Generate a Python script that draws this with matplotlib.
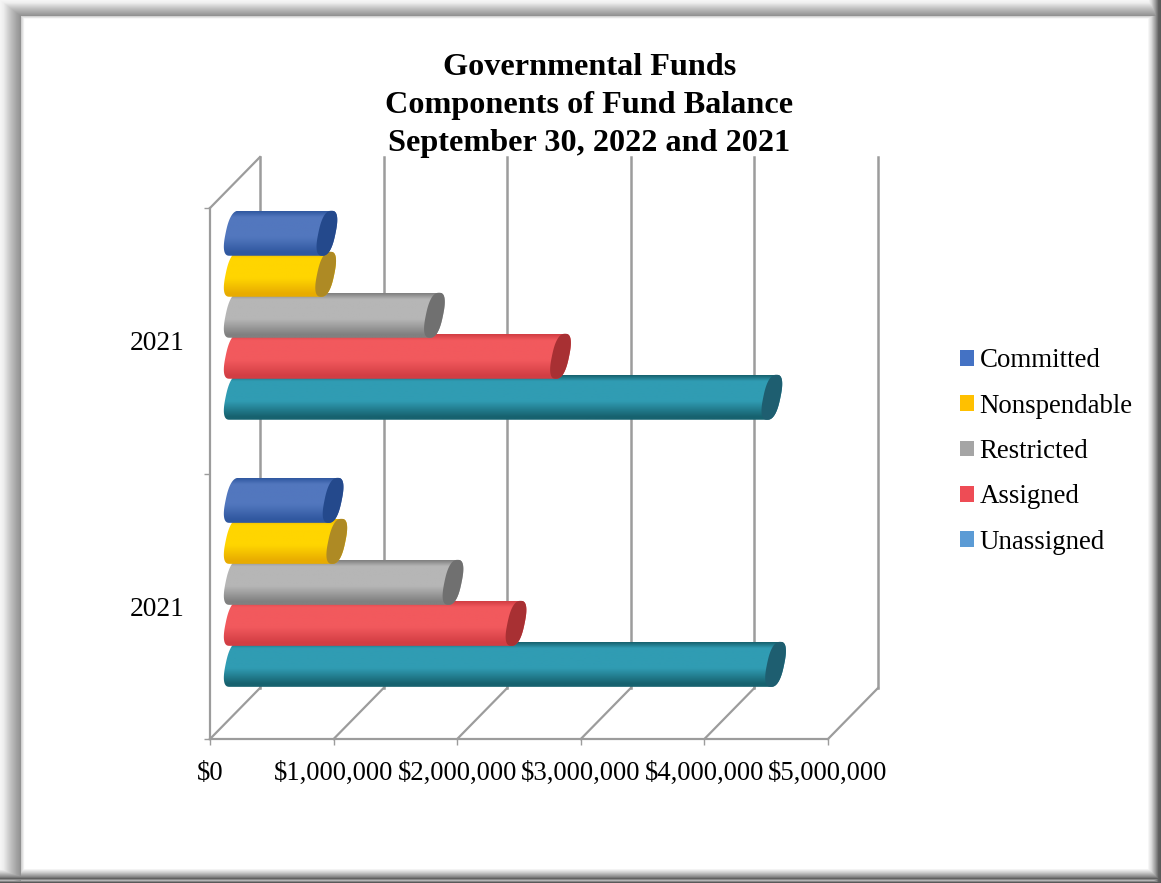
import numpy as np
import matplotlib
matplotlib.use("Agg")
import matplotlib.pyplot as plt
from matplotlib.patches import Patch, Polygon
from matplotlib.transforms import Affine2D

# ---- chart values ----
years = ["2021", "2021"]
series = ["Committed", "Nonspendable", "Restricted", "Assigned", "Unassigned"]
values_upper = [750000, 740000, 1620000, 2640000, 4350000]
values_lower = [800000, 830000, 1770000, 2280000, 4380000]
x_ticks = [0, 1000000, 2000000, 3000000, 4000000, 5000000]
x_labels = ["$0", "$1,000,000", "$2,000,000", "$3,000,000", "$4,000,000", "$5,000,000"]
title = "Governmental Funds\nComponents of Fund Balance\nSeptember 30, 2022 and 2021"

# body mid tone, body edge tone, end-cap tone, legend swatch
body = ["#5277BE", "#FFD500", "#B6B6B6", "#F2595D", "#309CB3"]
edge = ["#3058A0", "#E8AC00", "#808080", "#D23E44", "#17626F"]
cap = ["#24498C", "#AE8A24", "#707070", "#A83033", "#1E5E70"]
swatch = ["#4472C4", "#FFC000", "#A5A5A5", "#EE4C55", "#5B9BD5"]

W, H = 1161, 883
plt.rcParams["font.family"] = ["Liberation Serif", "DejaVu Serif"]
fig = plt.figure(figsize=(W / 100, H / 100), dpi=100, facecolor="white")

# ---- bevelled picture frame ----
bg = fig.add_axes([0, 0, 1, 1], zorder=-1)
xx, yy = np.meshgrid(np.arange(W), np.arange(H))
inset = np.minimum(xx / 21.0, yy / 16.0)
upper_left = np.interp(inset, [0, 0.15, 0.5, 0.97, 1.0, 1.15], [0.96, 0.93, 0.75, 0.56, 0.82, 1.0])
right = np.interp(xx, [1147, 1151, 1155, 1158, 1160], [1.0, 0.85, 0.6, 0.38, 0.35])
bottom = np.interp(yy, [868, 872, 876, 878, 880, 882], [1.0, 0.8, 0.55, 0.38, 0.7, 0.35])
bg.imshow(np.minimum.reduce([upper_left, right, bottom]), cmap="gray", vmin=0, vmax=1,
          aspect="auto", interpolation="nearest")
bg.axis("off")

# ---- front plane of the 3-D box: $0..$5M across, two categories high ----
FX0, FX1, FY_TOP, FY_BOT = 210, 828, 208, 739
ax = fig.add_axes([FX0 / W, 1 - FY_BOT / H, (FX1 - FX0) / W, (FY_BOT - FY_TOP) / H])
ax.patch.set_alpha(0)
ax.set_xlim(0, 5000000)
ax.set_ylim(0, 2)
px_x = 5000000 / (FX1 - FX0)
px_y = 2 / (FY_BOT - FY_TOP)

DEPTH_X, DEPTH_Y = 50, 51
back = Affine2D().translate(DEPTH_X, DEPTH_Y)
mid = Affine2D().translate(DEPTH_X / 2 - 0.8, DEPTH_Y / 2)
back_tf = ax.transData + back
mid_tf = ax.transData + mid
GRID = "#9C9C9C"

# back wall and floor lines
for v in x_ticks:
    ax.plot([v, v], [0, 2], color=GRID, lw=1.8, transform=back_tf, clip_on=False, zorder=1)
    ax.plot([v, v + DEPTH_X * px_x], [0, DEPTH_Y * px_y], color=GRID, lw=1.6,
            clip_on=False, zorder=1)
ax.plot([0, DEPTH_X * px_x], [2, 2 + DEPTH_Y * px_y], color=GRID, lw=1.6, clip_on=False, zorder=1)

for s in ("top", "right"):
    ax.spines[s].set_visible(False)
for s in ("left", "bottom"):
    ax.spines[s].set_color(GRID)
    ax.spines[s].set_linewidth(1.6)

ax.set_xticks(x_ticks)
ax.set_xticklabels(x_labels, fontsize=19.2)
ax.tick_params(axis="x", length=4.3, width=1, color=GRID, pad=11.5)
ax.set_yticks([0, 1, 2])
ax.set_yticklabels([])
ax.tick_params(axis="y", which="major", length=4.3, width=1, color=GRID)
ax.set_yticks([0.5, 1.5], minor=True)
ax.set_yticklabels(years, minor=True, fontsize=19.8)
ax.tick_params(axis="y", which="minor", length=0, pad=18)


def rim(t, cx, yc, half_h):
    """Points on the tilted, slightly squared-off rim of a cylinder end."""
    p = 0.78
    c = np.sign(np.cos(t)) * np.abs(np.cos(t)) ** p
    s = np.sign(np.sin(t)) * np.abs(np.sin(t)) ** p
    return cx + 8.6 * px_x * c + 4.6 * px_x * s, yc + half_h * s


def cylinder(value, yc, height, k, z):
    """Shaded horizontal cylinder ending at value, centred on yc in category units."""
    half_h = height / 2
    t = np.linspace(-np.pi / 2, np.pi / 2, 60)
    rx, ry = rim(t, value, yc, half_h)
    lx, ly = rim(t + np.pi, 0, yc, half_h)
    outline = Polygon(np.column_stack([np.r_[rx, lx], np.r_[ry, ly]]), closed=True,
                      transform=mid_tf, facecolor="none", edgecolor="none")
    ax.add_patch(outline)
    cm = matplotlib.colors.LinearSegmentedColormap.from_list(
        "shade", [(0, edge[k]), (0.13, body[k]), (0.58, body[k]), (0.93, edge[k]), (1, edge[k])])
    img = ax.imshow(np.linspace(0, 1, 64)[:, None], cmap=cm, aspect="auto", origin="upper",
                    extent=(-20 * px_x, value + 20 * px_x, yc - half_h, yc + half_h),
                    transform=mid_tf, zorder=z, interpolation="bilinear")
    img.set_clip_path(outline)
    outline.set_zorder(z)
    t = np.linspace(0, 2 * np.pi, 160)
    ex, ey = rim(t, value, yc, half_h)
    ax.fill(ex, ey, color=cap[k], transform=mid_tf, zorder=z + 0.1, clip_on=False, lw=0)


# ---- bars: the series at the top of a cluster is drawn last and sits in front ----
step = 41 * px_y
bar_h = 45 * px_y
cluster_centres = [0.494, 1.5]
for row, vals in enumerate([values_lower, values_upper]):
    for k in range(len(series) - 1, -1, -1):
        yc = cluster_centres[row] + (2 - k) * step
        cylinder(vals[k], yc, bar_h, k, 3 + (row * 10) + (len(series) - k))

ax.set_xlim(0, 5000000)
ax.set_ylim(0, 2)

fig.text(589.5 / W, 1 - 105.5 / H, title, ha="center", va="center", fontsize=23.2,
         fontweight="bold", linespacing=1.4, color="black")

handles = [Patch(facecolor=c, edgecolor="none", label=s) for c, s in zip(swatch, series)]
fig.legend(handles=handles, loc="center left", bbox_to_anchor=(949 / W, 1 - 451.5 / H),
           frameon=False, fontsize=19.4, handlelength=0.52, handleheight=0.52,
           handletextpad=0.22, labelspacing=0.754, borderpad=0.4, borderaxespad=0)

fig.savefig("out.png", dpi=100)
